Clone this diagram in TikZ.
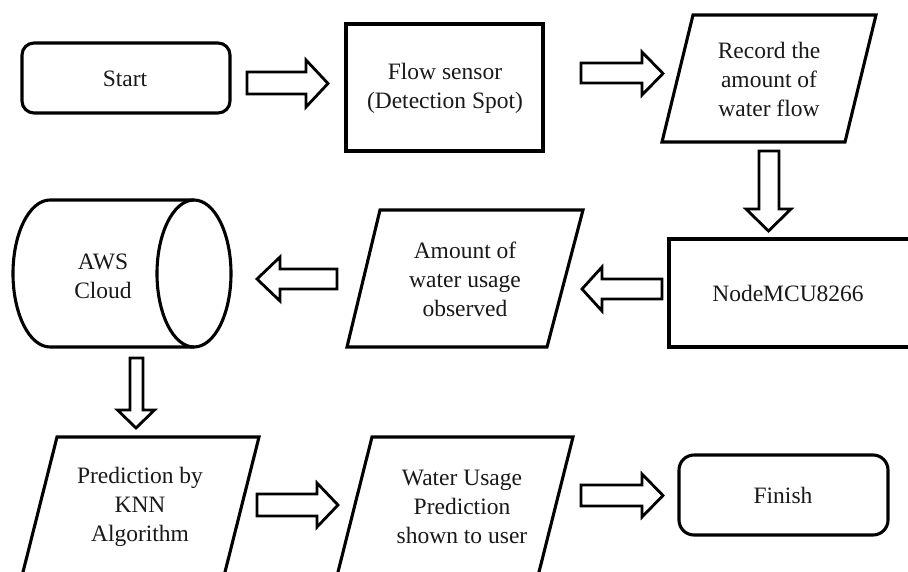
\documentclass[tikz,border=0pt]{standalone}
\usepackage{fontspec}
\setmainfont{Liberation Serif}
\begin{document}
\begin{tikzpicture}[x=1pt,y=-1pt,
  outline/.style={draw=black, line width=3.1pt, line join=miter},
  lbl/.style={font=\fontsize{23.5}{29}\selectfont, align=center, text=black!90, inner sep=0pt},
  barrow/.style={draw=black, line width=2.8pt, fill=white, line join=miter}]
\useasboundingbox (0,0) rectangle (908,571);
\clip (0,0) rectangle (908,571);
\fill[white] (0,0) rectangle (908,571);

% ---- shapes ----
\draw[outline, rounded corners=12pt] (22,43) rectangle (230,113);
\draw[outline] (346,24) rectangle (543,151);
\draw[outline] (693,15) -- (876,15) -- (845,142) -- (662,142) -- cycle;
\draw[outline] (669,239) rectangle (914,347);
\draw[outline] (380,210) -- (583,210) -- (547,347) -- (347,347) -- cycle;
% cylinder (AWS Cloud)
\draw[outline] (194,200) -- (50,200) arc[start angle=90, end angle=270, x radius=37, y radius=-73.5] -- (194,347);
\draw[outline] (194,273.5) ellipse[x radius=37, y radius=73.5];
\draw[outline] (57,437) -- (259,437) -- (224,576) -- (22,576) -- cycle;
\draw[outline] (372,437) -- (573,437) -- (538,576) -- (337,576) -- cycle;
\draw[outline, rounded corners=15pt] (679,455) rectangle (888,535);

% ---- labels ----
\node[lbl] (start) at (125,79) {Start};
\node[lbl] (flow) at (445,88) {Flow sensor\\(Detection Spot)};
\node[lbl] (record) at (769,79) {Record the\\amount of\\water flow};
\node[lbl] (mcu) at (788,293) {NodeMCU8266};
\node[lbl] (amount) at (465,279) {Amount of\\water usage\\observed};
\node[lbl] (aws) at (103,276) {AWS\\Cloud};
\node[lbl] (knn) at (140,507) {Prediction by\\KNN\\Algorithm};
\node[lbl] (shown) at (462,507) {Water Usage\\Prediction\\shown to user};
\node[lbl] (finish) at (783,495) {Finish};

% ---- block arrows ----
% Start -> Flow sensor
\draw[barrow] (247,72) -- (306,72) -- (306,60) -- (328,83.5) -- (306,107) -- (306,94) -- (247,94) -- cycle;
% Flow sensor -> Record
\draw[barrow] (581,63) -- (642,63) -- (642,52) -- (663,73.5) -- (642,95) -- (642,83) -- (581,83) -- cycle;
% Record -> NodeMCU
\draw[barrow] (759,151) -- (759,209) -- (746,209) -- (768.5,231) -- (791,209) -- (779,209) -- (779,151) -- cycle;
% NodeMCU -> Amount
\draw[barrow] (662,279) -- (602,279) -- (602,267) -- (582,289) -- (602,311) -- (602,299) -- (662,299) -- cycle;
% Amount -> AWS
\draw[barrow] (337,269) -- (280,269) -- (280,257) -- (257,279) -- (280,301) -- (280,289) -- (337,289) -- cycle;
% AWS -> Prediction
\draw[barrow] (130,358) -- (130,410) -- (117.5,410) -- (136,428) -- (154.5,410) -- (143,410) -- (143,358) -- cycle;
% Prediction -> Water usage
\draw[barrow] (257,494) -- (317,494) -- (317,483) -- (338,505) -- (317,527) -- (317,516) -- (257,516) -- cycle;
% Water usage -> Finish
\draw[barrow] (581,485) -- (642,485) -- (642,474) -- (663,495.5) -- (642,517) -- (642,506) -- (581,506) -- cycle;
\end{tikzpicture}
\end{document}
